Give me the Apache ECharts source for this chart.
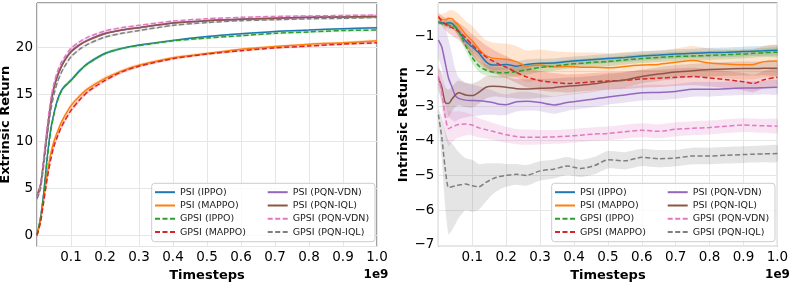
<!DOCTYPE html>
<html><head><meta charset="utf-8">
<script src="https://cdn.jsdelivr.net/npm/echarts@6/dist/echarts.min.js"></script>
<style>html,body{margin:0;padding:0;background:#fff}#c{width:793px;height:285px}</style>
</head><body><div id="c"></div>
<script>
// ---- names / styles ----
const NAMES = ['PSI (IPPO)','PSI (MAPPO)','GPSI (IPPO)','GPSI (MAPPO)','PSI (PQN-VDN)','PSI (PQN-IQL)','GPSI (PQN-VDN)','GPSI (PQN-IQL)'];
const COLORS = ['#1f77b4','#ff7f0e','#2ca02c','#d62728','#9467bd','#8c564b','#e377c2','#7f7f7f'];
const DASHED = [false,false,true,true,false,false,true,true];
const X_TICKS = [0.1,0.2,0.3,0.4,0.5,0.6,0.7,0.8,0.9,1.0];

// ---- left panel: extrinsic return ----
const X_EXT = [0,0.01,0.02,0.03,0.04,0.05,0.06,0.07,0.08,0.1,0.125,0.15,0.2,0.25,0.3,0.4,0.5,0.6,0.7,0.8,0.9,1.0];
const EXT_PSI_IPPO    = [0,1.8,4.6,8.3,11.2,13.0,14.4,15.3,15.8,16.5,17.5,18.3,19.35,19.9,20.25,20.75,21.15,21.45,21.7,21.85,22.0,22.1];
const EXT_PSI_MAPPO   = [0,1.5,4.0,6.5,8.6,10.0,11.0,11.9,12.6,13.8,14.8,15.6,16.7,17.5,18.1,18.9,19.35,19.8,20.1,20.35,20.5,20.7];
const EXT_GPSI_IPPO   = [0,1.7,4.4,8.0,11.0,12.9,14.3,15.2,15.8,16.5,17.5,18.3,19.35,19.9,20.2,20.7,21.0,21.25,21.5,21.65,21.8,21.85];
const EXT_GPSI_MAPPO  = [0,1.3,3.6,6.0,8.0,9.5,10.5,11.4,12.1,13.3,14.4,15.3,16.5,17.4,18.0,18.8,19.3,19.65,19.95,20.15,20.35,20.5];
const EXT_PSI_VDN     = [4.0,5.2,8.0,11.2,14.0,15.8,17.0,17.9,18.6,19.6,20.3,20.8,21.5,21.85,22.1,22.6,22.85,23.0,23.1,23.2,23.25,23.3];
const EXT_PSI_IQL     = [4.2,5.3,8.0,11.0,13.8,15.7,16.9,17.8,18.5,19.5,20.25,20.75,21.45,21.85,22.1,22.6,22.85,23.0,23.1,23.2,23.25,23.3];
const EXT_GPSI_VDN    = [4.0,5.3,8.3,11.6,14.4,16.2,17.4,18.3,18.9,19.9,20.6,21.1,21.75,22.1,22.35,22.8,23.05,23.2,23.3,23.35,23.4,23.45];
const EXT_GPSI_IQL    = [3.9,4.9,7.5,10.5,13.2,15.0,16.3,17.2,17.9,19.0,19.8,20.35,21.1,21.5,21.8,22.35,22.65,22.85,22.95,23.05,23.1,23.2];
const EXT_STD_PSI_IPPO   = [0.1,0.15,0.2,0.25,0.25,0.22,0.2,0.18,0.16,0.15,0.14,0.13,0.12,0.11,0.1,0.1,0.1,0.1,0.1,0.1,0.1,0.1];
const EXT_STD_PSI_MAPPO  = [0.1,0.2,0.25,0.3,0.32,0.32,0.32,0.3,0.3,0.28,0.26,0.24,0.22,0.2,0.18,0.16,0.15,0.14,0.13,0.13,0.13,0.13];
const EXT_STD_GPSI_IPPO  = [0.1,0.2,0.3,0.35,0.35,0.33,0.3,0.28,0.26,0.24,0.22,0.2,0.18,0.16,0.15,0.14,0.13,0.12,0.12,0.12,0.12,0.12];
const EXT_STD_GPSI_MAPPO = [0.1,0.2,0.25,0.3,0.32,0.32,0.3,0.3,0.28,0.26,0.24,0.22,0.2,0.18,0.17,0.15,0.14,0.13,0.12,0.12,0.12,0.12];
const EXT_STD_PSI_VDN    = [0.3,0.3,0.3,0.3,0.28,0.25,0.22,0.2,0.18,0.16,0.14,0.13,0.12,0.11,0.1,0.1,0.1,0.1,0.1,0.1,0.1,0.1];
const EXT_STD_PSI_IQL    = [0.35,0.35,0.32,0.3,0.28,0.25,0.22,0.2,0.18,0.16,0.14,0.13,0.12,0.11,0.1,0.1,0.1,0.1,0.1,0.1,0.1,0.1];
const EXT_STD_GPSI_VDN   = [0.3,0.3,0.3,0.3,0.28,0.25,0.22,0.2,0.18,0.16,0.15,0.14,0.13,0.12,0.11,0.1,0.1,0.1,0.1,0.1,0.1,0.1];
const EXT_STD_GPSI_IQL   = [0.3,0.3,0.3,0.3,0.28,0.26,0.24,0.22,0.2,0.18,0.16,0.15,0.14,0.13,0.12,0.11,0.1,0.1,0.1,0.1,0.1,0.1];

// ---- right panel: intrinsic return ----
const X_INT = [0,0.01,0.02,0.03,0.04,0.05,0.06,0.08,0.1,0.12,0.14,0.16,0.18,0.2,0.23,0.26,0.3,0.34,0.38,0.42,0.46,0.5,0.55,0.6,0.65,0.7,0.75,0.8,0.85,0.9,0.93,0.96,1.0];
const INT_PSI_IPPO   = [-0.57,-0.6,-0.63,-0.6,-0.62,-0.72,-0.85,-1.12,-1.3,-1.48,-1.72,-1.82,-1.82,-1.8,-1.85,-1.8,-1.77,-1.76,-1.72,-1.69,-1.66,-1.63,-1.6,-1.56,-1.53,-1.5,-1.48,-1.46,-1.45,-1.43,-1.42,-1.41,-1.39];
const INT_PSI_MAPPO  = [-0.47,-0.5,-0.52,-0.47,-0.48,-0.58,-0.67,-0.93,-1.12,-1.36,-1.55,-1.62,-1.64,-1.65,-1.72,-1.85,-1.82,-1.87,-1.86,-1.88,-1.88,-1.9,-1.86,-1.82,-1.8,-1.74,-1.69,-1.76,-1.79,-1.81,-1.8,-1.72,-1.7];
const INT_GPSI_IPPO  = [-0.6,-0.62,-0.65,-0.67,-0.69,-0.72,-0.85,-1.25,-1.6,-1.85,-1.96,-2.02,-2.04,-2.04,-2.01,-1.96,-1.89,-1.85,-1.8,-1.77,-1.74,-1.72,-1.67,-1.63,-1.6,-1.57,-1.56,-1.54,-1.52,-1.5,-1.48,-1.46,-1.45];
const INT_GPSI_MAPPO = [-0.42,-0.55,-0.63,-0.7,-0.74,-0.79,-0.85,-1.03,-1.24,-1.42,-1.58,-1.7,-1.8,-1.88,-2.03,-2.16,-2.27,-2.32,-2.35,-2.33,-2.3,-2.28,-2.26,-2.22,-2.2,-2.17,-2.15,-2.19,-2.24,-2.3,-2.35,-2.24,-2.17];
const INT_PSI_VDN    = [-1.1,-1.3,-1.75,-2.2,-2.45,-2.7,-2.78,-2.83,-2.84,-2.85,-2.87,-2.9,-2.95,-2.96,-2.88,-2.86,-2.9,-2.97,-2.9,-2.85,-2.8,-2.74,-2.68,-2.62,-2.61,-2.58,-2.52,-2.52,-2.5,-2.48,-2.48,-2.47,-2.46];
const INT_PSI_IQL    = [-2.2,-2.45,-2.9,-2.93,-2.8,-2.68,-2.62,-2.68,-2.7,-2.6,-2.46,-2.43,-2.44,-2.46,-2.5,-2.51,-2.49,-2.47,-2.43,-2.4,-2.36,-2.3,-2.25,-2.15,-2.08,-2.02,-1.98,-1.95,-1.93,-1.92,-1.92,-1.91,-1.91];
const INT_GPSI_VDN   = [-2.14,-2.6,-3.3,-3.65,-3.6,-3.56,-3.53,-3.52,-3.55,-3.63,-3.68,-3.73,-3.78,-3.83,-3.88,-3.9,-3.9,-3.89,-3.87,-3.84,-3.81,-3.79,-3.74,-3.7,-3.73,-3.67,-3.64,-3.62,-3.58,-3.55,-3.56,-3.57,-3.58];
const INT_GPSI_IQL   = [-3.25,-3.9,-4.8,-5.35,-5.33,-5.3,-5.28,-5.25,-5.3,-5.33,-5.2,-5.1,-5.03,-5.0,-4.97,-5.0,-4.87,-4.82,-4.73,-4.8,-4.72,-4.55,-4.58,-4.48,-4.52,-4.5,-4.44,-4.44,-4.42,-4.4,-4.39,-4.38,-4.37];
const INT_STD_PSI_IPPO   = [0.05,0.06,0.08,0.1,0.1,0.12,0.12,0.14,0.15,0.15,0.15,0.15,0.15,0.14,0.14,0.14,0.13,0.13,0.13,0.13,0.13,0.13,0.13,0.13,0.13,0.13,0.13,0.14,0.14,0.14,0.14,0.14,0.14];
const INT_STD_PSI_MAPPO  = [0.1,0.15,0.2,0.22,0.25,0.3,0.33,0.38,0.42,0.45,0.45,0.45,0.45,0.45,0.45,0.45,0.45,0.45,0.42,0.42,0.42,0.42,0.42,0.4,0.4,0.4,0.42,0.42,0.42,0.43,0.43,0.45,0.45];
const INT_STD_GPSI_IPPO  = [0.05,0.06,0.08,0.1,0.1,0.12,0.14,0.16,0.18,0.17,0.16,0.15,0.15,0.14,0.14,0.14,0.13,0.13,0.13,0.13,0.13,0.13,0.13,0.13,0.13,0.13,0.13,0.13,0.13,0.13,0.13,0.13,0.13];
const INT_STD_GPSI_MAPPO = [0.1,0.15,0.18,0.2,0.22,0.25,0.25,0.28,0.3,0.32,0.33,0.33,0.33,0.32,0.3,0.3,0.28,0.27,0.26,0.25,0.25,0.25,0.25,0.25,0.25,0.25,0.25,0.25,0.25,0.25,0.25,0.25,0.25];
const INT_STD_PSI_VDN    = [0.5,0.6,1.0,1.1,0.95,0.75,0.6,0.5,0.45,0.42,0.38,0.35,0.32,0.3,0.28,0.27,0.25,0.25,0.24,0.23,0.23,0.22,0.22,0.22,0.22,0.21,0.21,0.21,0.2,0.2,0.2,0.2,0.2];
const INT_STD_PSI_IQL    = [0.3,0.4,0.45,0.4,0.35,0.35,0.35,0.35,0.35,0.33,0.32,0.3,0.3,0.3,0.28,0.28,0.27,0.26,0.25,0.24,0.23,0.22,0.22,0.2,0.2,0.2,0.2,0.2,0.2,0.2,0.2,0.2,0.2];
const INT_STD_GPSI_VDN   = [0.3,0.45,0.55,0.5,0.45,0.4,0.38,0.33,0.3,0.28,0.26,0.25,0.24,0.23,0.22,0.22,0.21,0.2,0.2,0.2,0.2,0.2,0.2,0.2,0.2,0.2,0.2,0.2,0.2,0.2,0.2,0.2,0.2];
const INT_STD_GPSI_IQL   = [0.15,0.6,1.1,1.35,1.25,1.1,0.95,0.75,0.75,0.65,0.55,0.45,0.38,0.33,0.3,0.3,0.28,0.27,0.26,0.25,0.25,0.25,0.25,0.25,0.25,0.24,0.24,0.24,0.24,0.24,0.24,0.24,0.24];

const EXT_MEANS = [EXT_PSI_IPPO,EXT_PSI_MAPPO,EXT_GPSI_IPPO,EXT_GPSI_MAPPO,EXT_PSI_VDN,EXT_PSI_IQL,EXT_GPSI_VDN,EXT_GPSI_IQL];
const EXT_STDS  = [EXT_STD_PSI_IPPO,EXT_STD_PSI_MAPPO,EXT_STD_GPSI_IPPO,EXT_STD_GPSI_MAPPO,EXT_STD_PSI_VDN,EXT_STD_PSI_IQL,EXT_STD_GPSI_VDN,EXT_STD_GPSI_IQL];
const INT_MEANS = [INT_PSI_IPPO,INT_PSI_MAPPO,INT_GPSI_IPPO,INT_GPSI_MAPPO,INT_PSI_VDN,INT_PSI_IQL,INT_GPSI_VDN,INT_GPSI_IQL];
const INT_STDS  = [INT_STD_PSI_IPPO,INT_STD_PSI_MAPPO,INT_STD_GPSI_IPPO,INT_STD_GPSI_MAPPO,INT_STD_PSI_VDN,INT_STD_PSI_IQL,INT_STD_GPSI_VDN,INT_STD_GPSI_IQL];

const FONT = 'DejaVu Sans';

function bandSeries(xs, mean, std, color, gi) {
  const data = xs.map((x, i) => [x, mean[i] - std[i], mean[i] + std[i]]);
  return {
    type: 'custom', xAxisIndex: gi, yAxisIndex: gi, z: 1, silent: true, clip: true,
    encode: { x: 0, y: [1, 2] },
    renderItem: function (params, api) {
      if (params.dataIndex !== 0) return null;
      const up = data.map(d => api.coord([d[0], d[2]]));
      const lo = data.map(d => api.coord([d[0], d[1]])).reverse();
      return { type: 'polygon', shape: { points: up.concat(lo), smooth: 0.2 }, style: { fill: color, opacity: 0.2 } };
    },
    data: data
  };
}
function lineSeries(xs, ys, k, gi) {
  return {
    type: 'line', name: NAMES[k], xAxisIndex: gi, yAxisIndex: gi, z: 3,
    symbol: 'none', smooth: 0.25, clip: true,
    lineStyle: { color: COLORS[k], width: 1.5, type: DASHED[k] ? [5, 2.5] : 'solid' },
    itemStyle: { color: COLORS[k] },
    data: xs.map((x, i) => [x, ys[i]])
  };
}

const series = [];
for (let k = 0; k < 8; k++) series.push(bandSeries(X_EXT, EXT_MEANS[k], EXT_STDS[k], COLORS[k], 0));
for (let k = 0; k < 8; k++) series.push(bandSeries(X_INT, INT_MEANS[k], INT_STDS[k], COLORS[k], 1));
for (let k = 0; k < 8; k++) series.push(lineSeries(X_EXT, EXT_MEANS[k], k, 0));
for (let k = 0; k < 8; k++) series.push(lineSeries(X_INT, INT_MEANS[k], k, 1));

function xAxis(gi) {
  return {
    type: 'value', gridIndex: gi, min: 0, max: 1, interval: 0.1,
    name: 'Timesteps', nameLocation: 'middle', nameGap: 14,
    nameTextStyle: { fontFamily: FONT, fontWeight: 'bold', fontSize: 13, color: '#000' },
    axisLine: { show: false }, axisTick: { show: false },
    axisLabel: {
      fontFamily: FONT, fontSize: 13.5, color: '#000', margin: 4,
      formatter: v => (X_TICKS.some(t => Math.abs(t - v) < 1e-9) ? v.toFixed(1) : '')
    },
    splitLine: { show: true, lineStyle: { color: '#e6e6e6', width: 1 } }
  };
}
function yAxis(gi, name, min, max, step, gap) {
  return {
    type: 'value', gridIndex: gi, min: min, max: max, splitNumber: gi === 0 ? 5 : 7,
    name: name, nameLocation: 'middle', nameGap: gap, nameRotate: 90,
    nameTextStyle: { fontFamily: FONT, fontWeight: 'bold', fontSize: 13, color: '#000' },
    axisLine: { show: false }, axisTick: { show: false },
    axisLabel: {
      fontFamily: FONT, fontSize: 13.5, color: '#000', margin: 4,
      formatter: v => {
        const r = Math.round(v / step) * step;
        if (Math.abs(r - v) > 1e-6) return '';
        return r < 0 ? '\u2212' + Math.abs(r) : String(r);
      }
    },
    splitLine: { show: true, lineStyle: { color: '#e6e6e6', width: 1 } }
  };
}
function legend(left, names) {
  return {
    orient: 'vertical', left: left, top: 186.2, padding: 0,
    itemWidth: 20, itemHeight: 10, itemGap: 1.3,
    data: names,
    itemStyle: { opacity: 0 },
    lineStyle: { width: 2 },
    textStyle: { fontFamily: FONT, fontSize: 9.5, color: '#222', lineHeight: 12 },
    selectedMode: false, z: 10
  };
}

const chart = echarts.init(document.getElementById('c'), null, { renderer: 'canvas' });
chart.setOption({
  animation: false,
  backgroundColor: '#fff',
  grid: [
    { left: 37, top: 3, width: 340, height: 243.5, show: true, borderColor: '#444', borderWidth: 1, backgroundColor: 'transparent', containLabel: false, outerBoundsMode: 'none' },
    { left: 438.4, top: 3, width: 339, height: 243.5, show: true, borderColor: '#444', borderWidth: 1, backgroundColor: 'transparent', containLabel: false, outerBoundsMode: 'none' }
  ],
  xAxis: [xAxis(0), xAxis(1)],
  yAxis: [
    yAxis(0, 'Extrinsic Return', -1.2, 24.73, 5, 21),
    yAxis(1, 'Intrinsic Return', -7.05, -0.03, 1, 22)
  ],
  legend: [
    legend(154, NAMES.slice(0, 4)), legend(266.7, NAMES.slice(4)),
    legend(554, NAMES.slice(0, 4)), legend(666.7, NAMES.slice(4))
  ],
  graphic: [
    { type: 'rect', z: 9, shape: { x: 151.7, y: 183.3, width: 223.3, height: 58.4, r: 3 }, style: { fill: 'rgba(255,255,255,0.8)', stroke: '#cccccc', lineWidth: 1 } },
    { type: 'rect', z: 9, shape: { x: 551.7, y: 183.3, width: 223.3, height: 58.4, r: 3 }, style: { fill: 'rgba(255,255,255,0.8)', stroke: '#cccccc', lineWidth: 1 } },
    { type: 'text', z: 9, x: 376, y: 275, style: { text: '1e9', fontFamily: FONT, fontWeight: 'bold', fontSize: 12, fill: '#000', align: 'center', verticalAlign: 'middle' } },
    { type: 'text', z: 9, x: 777.5, y: 275, style: { text: '1e9', fontFamily: FONT, fontWeight: 'bold', fontSize: 12, fill: '#000', align: 'center', verticalAlign: 'middle' } }
  ],
  series: series
});
</script>
</body></html>
